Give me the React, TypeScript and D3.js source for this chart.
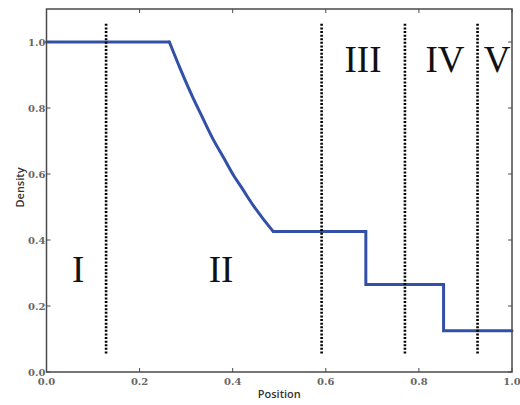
import React, { useEffect, useRef } from "react";
import * as d3 from "d3";

// Density profile along the tube, split into the left state, the
// rarefaction fan and the stepped right-hand states
const leftX = [0.0, 0.264];
const leftRho = [1.0, 1.0];
const fanX = [0.264, 0.287, 0.315, 0.33, 0.358, 0.38, 0.401, 0.42, 0.444, 0.465, 0.487];
const fanRho = [1.0, 0.92, 0.83, 0.786, 0.705, 0.651, 0.598, 0.557, 0.505, 0.465, 0.426];
const rightX = [0.487, 0.686, 0.686, 0.853, 0.853, 1.0];
const rightRho = [0.426, 0.426, 0.265, 0.265, 0.125, 0.125];

// Region boundaries (dotted lines) and their vertical extent
const boundaries = [0.128, 0.591, 0.77, 0.926];
const boundaryExtent = [0.055, 1.055];

// Region labels
const regionNames = ["I", "II", "III", "IV", "V"];
const regionX = [0.068, 0.375, 0.68, 0.856, 0.968];
const regionY = [0.273, 0.273, 0.91, 0.91, 0.91];

const xTicks = [0, 0.2, 0.4, 0.6, 0.8, 1.0];
const yTicks = [0, 0.2, 0.4, 0.6, 0.8, 1.0];

const W = 520;
const H = 405;
const margin = { left: 46.5, right: 8, top: 9, bottom: 33 };

export default function App() {
  const ref = useRef<SVGSVGElement | null>(null);

  useEffect(() => {
    document.body.style.margin = "0";
    const svg = d3.select(ref.current);
    svg.selectAll("*").remove();

    const x = d3.scaleLinear().domain([0, 1]).range([margin.left, W - margin.right]);
    const y = d3.scaleLinear().domain([0, 1.1]).range([H - margin.bottom, margin.top]);

    const frameColor = "#4a4a4a";
    const tickLen = 4;
    const lineColor = "#3350a8";

    const pieces: [number[], number[], d3.CurveFactory][] = [
      [leftX, leftRho, d3.curveLinear],
      [fanX, fanRho, d3.curveMonotoneX],
      [rightX, rightRho, d3.curveLinear],
    ];
    pieces.forEach(([xs, ys, curve]) => {
      const line = d3
        .line<number>()
        .x((_, i) => x(xs[i]))
        .y((d) => y(d))
        .curve(curve);
      svg
        .append("path")
        .attr("d", line(ys))
        .attr("fill", "none")
        .attr("stroke", lineColor)
        .attr("stroke-width", 3)
        .attr("stroke-linejoin", "miter")
        .attr("stroke-linecap", "round");
    });

    // dotted region boundaries
    svg
      .selectAll("line.bound")
      .data(boundaries)
      .enter()
      .append("line")
      .attr("class", "bound")
      .attr("x1", (d) => x(d))
      .attr("x2", (d) => x(d))
      .attr("y1", y(boundaryExtent[1]))
      .attr("y2", y(boundaryExtent[0]))
      .attr("stroke", "#000")
      .attr("stroke-width", 2.6)
      .attr("stroke-dasharray", "2,1.6");

    // region labels
    svg
      .selectAll("text.region")
      .data(regionNames)
      .enter()
      .append("text")
      .attr("class", "region")
      .attr("x", (_, i) => x(regionX[i]))
      .attr("y", (_, i) => y(regionY[i]))
      .attr("text-anchor", "middle")
      .attr("font-family", "'Liberation Serif', 'DejaVu Serif', serif")
      .attr("font-size", 37)
      .attr("fill", "#111")
      .text((d) => d);

    // frame
    svg
      .append("rect")
      .attr("x", x(0))
      .attr("y", y(1.1))
      .attr("width", x(1) - x(0))
      .attr("height", y(0) - y(1.1))
      .attr("fill", "none")
      .attr("stroke", frameColor)
      .attr("stroke-width", 1.5);

    // ticks (inward, on all four sides)
    const tg = svg.append("g").attr("stroke", frameColor).attr("stroke-width", 1);
    xTicks.forEach((t) => {
      tg.append("line").attr("x1", x(t)).attr("x2", x(t)).attr("y1", y(0)).attr("y2", y(0) - tickLen);
      tg.append("line").attr("x1", x(t)).attr("x2", x(t)).attr("y1", y(1.1)).attr("y2", y(1.1) + tickLen);
    });
    yTicks.forEach((t) => {
      tg.append("line").attr("x1", x(0)).attr("x2", x(0) + tickLen).attr("y1", y(t)).attr("y2", y(t));
      tg.append("line").attr("x1", x(1)).attr("x2", x(1) - tickLen).attr("y1", y(t)).attr("y2", y(t));
    });

    const tickFont = "'DejaVu Serif', serif";
    const fmt = d3.format(".1f");
    svg
      .selectAll("text.xt")
      .data(xTicks)
      .enter()
      .append("text")
      .attr("x", (d) => x(d))
      .attr("y", y(0) + 13)
      .attr("text-anchor", "middle")
      .attr("font-family", tickFont)
      .attr("font-size", 10)
      .attr("font-weight", "bold")
      .attr("fill", "#666")
      .text((d) => fmt(d));
    svg
      .selectAll("text.yt")
      .data(yTicks)
      .enter()
      .append("text")
      .attr("x", x(0) - 1)
      .attr("y", (d) => y(d) + 3.5)
      .attr("text-anchor", "end")
      .attr("font-family", tickFont)
      .attr("font-size", 10)
      .attr("font-weight", "bold")
      .attr("fill", "#666")
      .text((d) => fmt(d));

    // axis titles
    svg
      .append("text")
      .attr("x", (x(0) + x(1)) / 2)
      .attr("y", H - 7)
      .attr("text-anchor", "middle")
      .attr("font-family", "'Open Sans', sans-serif")
      .attr("font-weight", 600)
      .attr("font-size", 11)
      .attr("fill", "#333")
      .text("Position");
    svg
      .append("text")
      .attr("transform", `translate(24,${(y(0) + y(1.1)) / 2 - 3}) rotate(-90)`)
      .attr("text-anchor", "middle")
      .attr("font-family", "'Open Sans', sans-serif")
      .attr("font-weight", 600)
      .attr("font-size", 11)
      .attr("fill", "#333")
      .text("Density");
  }, []);

  return <svg ref={ref} width={W} height={H} style={{ display: "block", background: "#fff" }} />;
}
